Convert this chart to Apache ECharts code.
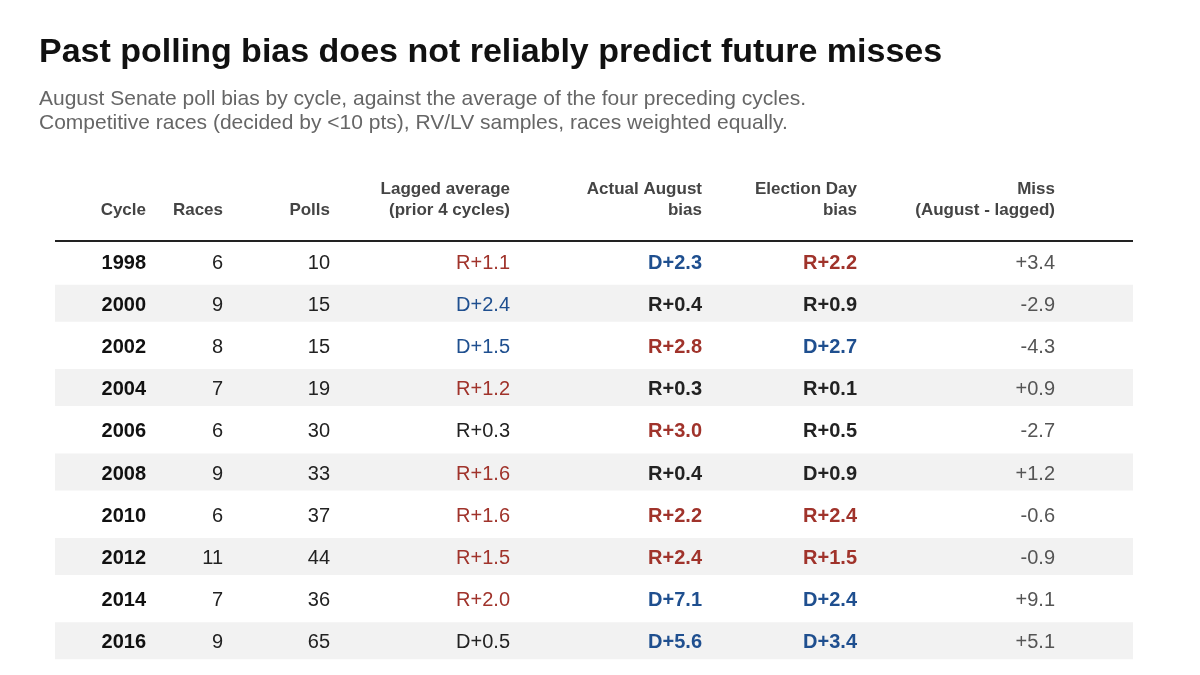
<!DOCTYPE html>
<html><head><meta charset="utf-8">
<script src="https://cdn.jsdelivr.net/npm/echarts@6/dist/echarts.min.js"></script>
<style>html,body{margin:0;padding:0;background:#fff}#c{width:1200px;height:675px}</style>
</head><body><div id="c"></div>
<script>
const cycles = ["1998","2000","2002","2004","2006","2008","2010","2012","2014","2016","2018"];
const races = [6,9,8,7,6,9,6,11,7,9,6];
const polls = [10,15,15,19,30,33,37,44,36,65,33];
const lagged = ["R+1.1","D+2.4","D+1.5","R+1.2","R+0.3","R+1.6","R+1.6","R+1.5","R+2.0","D+0.5","D+2.6"];
const august = ["D+2.3","R+0.4","R+2.8","R+0.3","R+3.0","R+0.4","R+2.2","R+2.4","D+7.1","D+5.6","D+2.4"];
const electionDay = ["R+2.2","R+0.9","D+2.7","R+0.1","R+0.5","D+0.9","R+2.4","R+1.5","D+2.4","D+3.4","D+1.6"];
const miss = ["+3.4","-2.9","-4.3","+0.9","-2.7","+1.2","-0.6","-0.9","+9.1","+5.1","-4.1"];
const headers = [["Cycle"],["Races"],["Polls"],["Lagged average","(prior 4 cycles)"],["Actual August","bias"],["Election Day","bias"],["Miss","(August - lagged)"]];

const colX = [146,223,330,510,702,857,1055];
const FONT = '"Liberation Sans", Arial, sans-serif';
function biasColor(s){
  const v = parseFloat(s.slice(2));
  if (v < 1) return '#222';
  return s[0]==='R' ? '#a0332b' : '#1f4f8f';
}
const chart = echarts.init(document.getElementById('c'));
chart.setOption({
  animation:false,
  title:[{text:'Past polling bias does not reliably predict future misses',left:34,top:31,
    textStyle:{fontFamily:FONT,fontSize:34,fontWeight:'bold',color:'#111'}},
    {text:'August Senate poll bias by cycle, against the average of the four preceding cycles.\nCompetitive races (decided by <10 pts), RV/LV samples, races weighted equally.',
    left:34,top:82,textStyle:{fontFamily:FONT,fontSize:21,fontWeight:'normal',color:'#666',lineHeight:24}}],
  grid:{left:0,right:0,top:0,bottom:0},
  xAxis:{type:'value',min:0,max:1200,show:false},
  yAxis:{type:'value',min:0,max:675,inverse:true,show:false},
  graphic:[{type:'line',shape:{x1:55,y1:241,x2:1133,y2:241},style:{stroke:'#222',lineWidth:2}}].concat(
    headers.map((h,j)=>({type:'text',x:colX[j],y:h.length===2?179:200,
      style:{text:h.join('\n'),align:'right',verticalAlign:'top',fontFamily:FONT,fontSize:17,fontWeight:'bold',fill:'#444',lineHeight:21}}))),
  series:[{
    type:'custom',
    data:cycles.map((c,i)=>[i]),
    renderItem:function(params,api){
      const i = api.value(0);
      const y = api.coord([0, 263 + i*42.2])[1];
      const children = [];
      if (i % 2 === 1) {
        const p0 = api.coord([55, 261 + i*42.2 - 18.5]);
        const p1 = api.coord([1133, 261 + i*42.2 + 18.5]);
        children.push({type:'rect',shape:{x:p0[0],y:p0[1],width:p1[0]-p0[0],height:p1[1]-p0[1]},style:{fill:'#f2f2f2'}});
      }
      const cells = [
        [cycles[i],'#111','bold'],[String(races[i]),'#222','normal'],[String(polls[i]),'#222','normal'],
        [lagged[i],biasColor(lagged[i]),'normal'],[august[i],biasColor(august[i]),'bold'],
        [electionDay[i],biasColor(electionDay[i]),'bold'],[miss[i],'#555','normal']];
      cells.forEach((c,j)=>{
        children.push({type:'text',x:api.coord([colX[j],0])[0],y:y,
          style:{text:c[0],align:'right',verticalAlign:'middle',fontFamily:FONT,fontSize:20,fontWeight:c[2],fill:c[1]}});
      });
      return {type:'group',children:children};
    }
  }]
});
</script></body></html>
